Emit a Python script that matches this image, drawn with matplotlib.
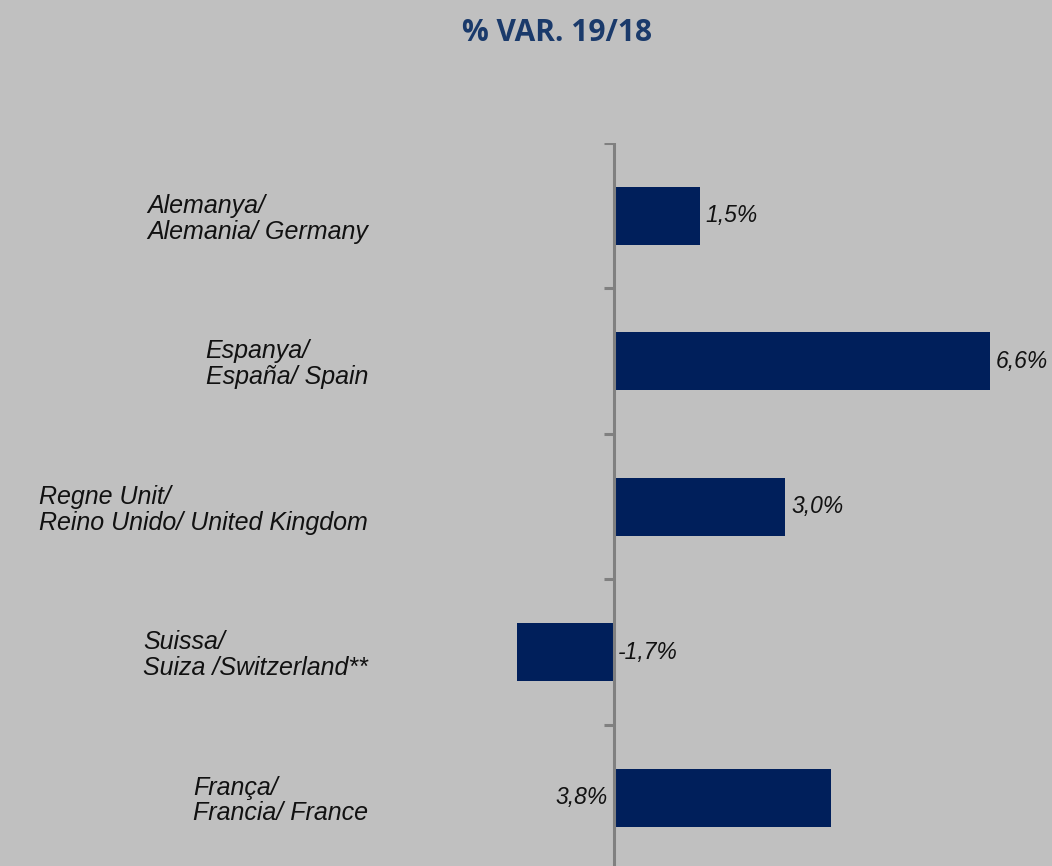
import numpy as np
import matplotlib.pyplot as plt

# data
labels = ["Alemanya/\nAlemania/ Germany",
          "Espanya/\nEspaña/ Spain",
          "Regne Unit/\nReino Unido/ United Kingdom",
          "Suissa/\nSuiza /Switzerland**",
          "França/\nFrancia/ France"]
values = [1.5, 6.6, 3.0, -1.7, 3.8]
value_text = ["1,5%", "6,6%", "3,0%", "-1,7%", "3,8%"]

bg = "#c0c0c0"
bar_col = "#001f5b"

fig = plt.figure(figsize=(10.52, 8.66), dpi=100, facecolor=bg)
ax = fig.add_axes([0, 0, 1, 723 / 866])
ax.set_facecolor(bg)

pos = np.arange(len(values))
ax.barh(pos, values, height=0.4, color=bar_col, zorder=2)

ppx = 57.0  # pixels per percent
ax.set_xlim(-614 / ppx, (1052 - 614) / ppx)
ax.set_ylim(4.47, -0.5)

for s in ax.spines.values():
    s.set_visible(False)
ax.set_xticks([])
ax.set_yticks([])

# vertical category axis with boundary ticks
ax.axvline(0, color="#808080", lw=2.2, zorder=3)
for b in np.arange(-0.5, len(values), 1.0):
    ax.plot([-10 / ppx, 0], [b, b], color="#808080", lw=2.2, zorder=3,
            solid_capstyle="butt")

fnt = dict(family="Liberation Sans", fontsize=18, style="italic", color="#111111")
vfnt = dict(fnt, fontsize=16.5)

for i, (lab, v, t) in enumerate(zip(labels, values, value_text)):
    ax.text((368 - 614) / ppx, i + 0.02, lab, ha="right", va="center",
            multialignment="left", linespacing=1.1, **fnt)
    if i == 4:
        ax.text(-6 / ppx, i, t, ha="right", va="center", **vfnt)
    elif v >= 0:
        ax.text(v + 6 / ppx, i, t, ha="left", va="center", **vfnt)
    else:
        ax.text(4 / ppx, i, t, ha="left", va="center", **vfnt)

fig.text(557 / 1052, 1 - 33 / 866, "% VAR. 19/18", ha="center", va="center",
         family="Open Sans", fontweight="bold", fontsize=21.5, color="#1a3a6b")

fig.savefig("out.png", dpi=100, facecolor=bg)
